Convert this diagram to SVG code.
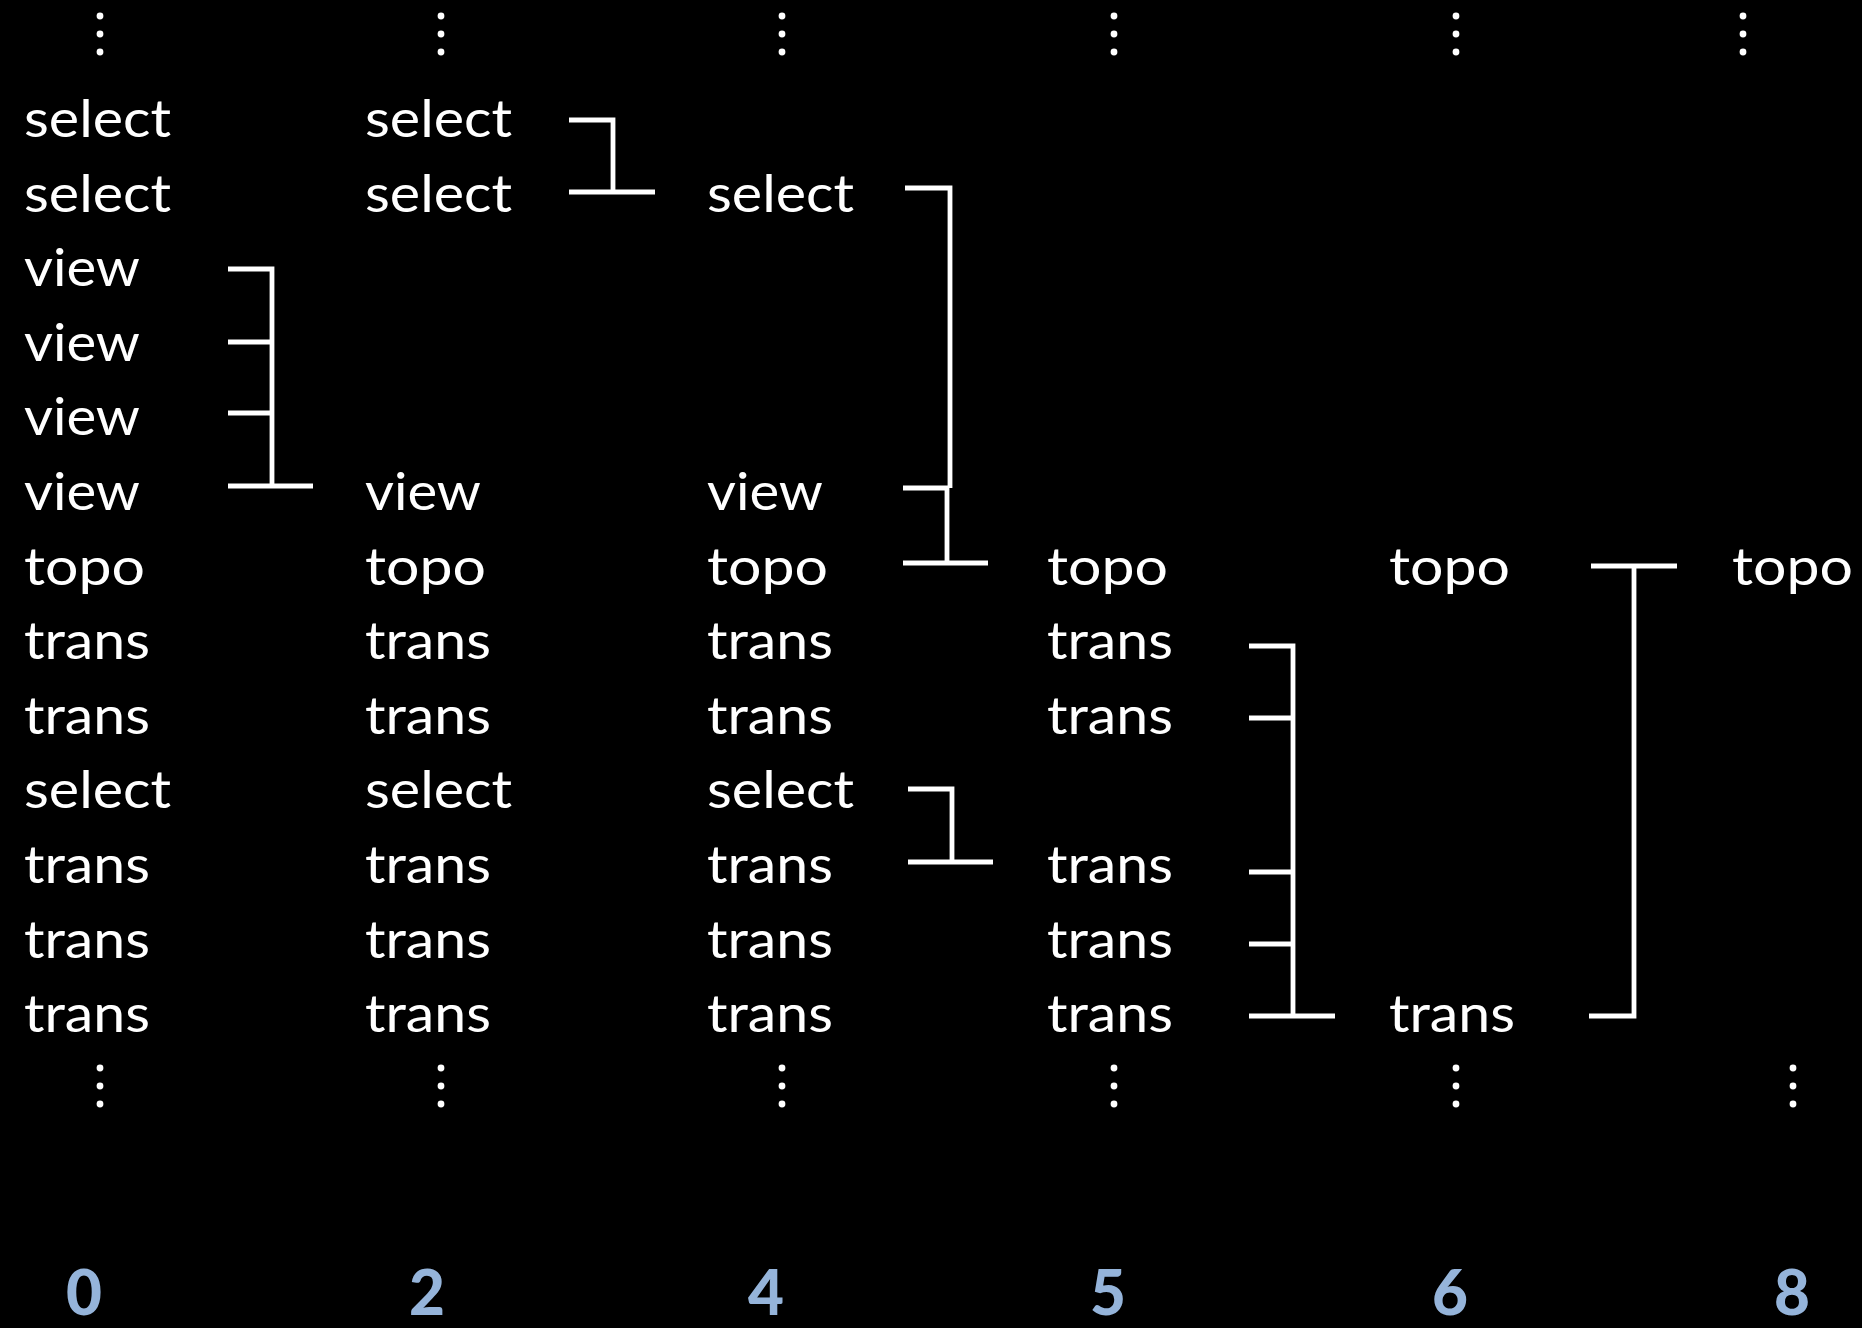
<svg xmlns="http://www.w3.org/2000/svg" width="1862" height="1328" viewBox="0 0 1862 1328">
  <style>
    .lbl { font-family: Lato, "Open Sans", "Liberation Sans", sans-serif; font-size: 53px; fill: #ffffff; }
    .num { font-family: Lato, "Open Sans", "Liberation Sans", sans-serif; font-size: 62px; font-weight: 900; fill: #95b4da; text-anchor: middle; }
    .link { fill: none; stroke: #ffffff; stroke-width: 4.8; stroke-linecap: butt; stroke-linejoin: miter; }
    .dot { fill: #ffffff; }
  </style>
  <defs>
    <g id="vdots">
      <circle class="dot" cx="0" cy="0" r="3.4"/>
      <circle class="dot" cx="0" cy="18" r="3.4"/>
      <circle class="dot" cx="0" cy="36" r="3.4"/>
    </g>
  </defs>

  <rect x="0" y="0" width="1862" height="1328" fill="#000000"/>

  <!-- continuation dots above and below each column -->
  <g id="ellipses">
    <use href="#vdots" x="100" y="16"/>
    <use href="#vdots" x="441" y="16"/>
    <use href="#vdots" x="782" y="16"/>
    <use href="#vdots" x="1114" y="16"/>
    <use href="#vdots" x="1456" y="16"/>
    <use href="#vdots" x="1743" y="16"/>
    <use href="#vdots" x="100" y="1068"/>
    <use href="#vdots" x="441" y="1068"/>
    <use href="#vdots" x="782" y="1068"/>
    <use href="#vdots" x="1114" y="1068"/>
    <use href="#vdots" x="1456" y="1068"/>
    <use href="#vdots" x="1793" y="1068"/>
  </g>

  <!-- column 0 -->
  <g id="col0">
    <g id="c0r0"><text class="lbl" x="24" y="137" textLength="147" lengthAdjust="spacingAndGlyphs">select</text></g>
    <g id="c0r1"><text class="lbl" x="24" y="212" textLength="147" lengthAdjust="spacingAndGlyphs">select</text></g>
    <g id="c0r2"><text class="lbl" x="24" y="286" textLength="116" lengthAdjust="spacingAndGlyphs">view</text></g>
    <g id="c0r3"><text class="lbl" x="24" y="361" textLength="116" lengthAdjust="spacingAndGlyphs">view</text></g>
    <g id="c0r4"><text class="lbl" x="24" y="435" textLength="116" lengthAdjust="spacingAndGlyphs">view</text></g>
    <g id="c0r5"><text class="lbl" x="24" y="510" textLength="116" lengthAdjust="spacingAndGlyphs">view</text></g>
    <g id="c0r6"><text class="lbl" x="24" y="585" textLength="121" lengthAdjust="spacingAndGlyphs">topo</text></g>
    <g id="c0r7"><text class="lbl" x="24" y="659" textLength="126" lengthAdjust="spacingAndGlyphs">trans</text></g>
    <g id="c0r8"><text class="lbl" x="24" y="734" textLength="126" lengthAdjust="spacingAndGlyphs">trans</text></g>
    <g id="c0r9"><text class="lbl" x="24" y="808" textLength="147" lengthAdjust="spacingAndGlyphs">select</text></g>
    <g id="c0r10"><text class="lbl" x="24" y="883" textLength="126" lengthAdjust="spacingAndGlyphs">trans</text></g>
    <g id="c0r11"><text class="lbl" x="24" y="958" textLength="126" lengthAdjust="spacingAndGlyphs">trans</text></g>
    <g id="c0r12"><text class="lbl" x="24" y="1032" textLength="126" lengthAdjust="spacingAndGlyphs">trans</text></g>
  </g>

  <!-- column 2 -->
  <g id="col2">
    <g id="c2r0"><text class="lbl" x="365" y="137" textLength="147" lengthAdjust="spacingAndGlyphs">select</text></g>
    <g id="c2r1"><text class="lbl" x="365" y="212" textLength="147" lengthAdjust="spacingAndGlyphs">select</text></g>
    <g id="c2r5"><text class="lbl" x="365" y="510" textLength="116" lengthAdjust="spacingAndGlyphs">view</text></g>
    <g id="c2r6"><text class="lbl" x="365" y="585" textLength="121" lengthAdjust="spacingAndGlyphs">topo</text></g>
    <g id="c2r7"><text class="lbl" x="365" y="659" textLength="126" lengthAdjust="spacingAndGlyphs">trans</text></g>
    <g id="c2r8"><text class="lbl" x="365" y="734" textLength="126" lengthAdjust="spacingAndGlyphs">trans</text></g>
    <g id="c2r9"><text class="lbl" x="365" y="808" textLength="147" lengthAdjust="spacingAndGlyphs">select</text></g>
    <g id="c2r10"><text class="lbl" x="365" y="883" textLength="126" lengthAdjust="spacingAndGlyphs">trans</text></g>
    <g id="c2r11"><text class="lbl" x="365" y="958" textLength="126" lengthAdjust="spacingAndGlyphs">trans</text></g>
    <g id="c2r12"><text class="lbl" x="365" y="1032" textLength="126" lengthAdjust="spacingAndGlyphs">trans</text></g>
  </g>

  <!-- column 4 -->
  <g id="col4">
    <g id="c4r1"><text class="lbl" x="707" y="212" textLength="147" lengthAdjust="spacingAndGlyphs">select</text></g>
    <g id="c4r5"><text class="lbl" x="707" y="510" textLength="116" lengthAdjust="spacingAndGlyphs">view</text></g>
    <g id="c4r6"><text class="lbl" x="707" y="585" textLength="121" lengthAdjust="spacingAndGlyphs">topo</text></g>
    <g id="c4r7"><text class="lbl" x="707" y="659" textLength="126" lengthAdjust="spacingAndGlyphs">trans</text></g>
    <g id="c4r8"><text class="lbl" x="707" y="734" textLength="126" lengthAdjust="spacingAndGlyphs">trans</text></g>
    <g id="c4r9"><text class="lbl" x="707" y="808" textLength="147" lengthAdjust="spacingAndGlyphs">select</text></g>
    <g id="c4r10"><text class="lbl" x="707" y="883" textLength="126" lengthAdjust="spacingAndGlyphs">trans</text></g>
    <g id="c4r11"><text class="lbl" x="707" y="958" textLength="126" lengthAdjust="spacingAndGlyphs">trans</text></g>
    <g id="c4r12"><text class="lbl" x="707" y="1032" textLength="126" lengthAdjust="spacingAndGlyphs">trans</text></g>
  </g>

  <!-- column 5 -->
  <g id="col5">
    <g id="c5r6"><text class="lbl" x="1047" y="585" textLength="121" lengthAdjust="spacingAndGlyphs">topo</text></g>
    <g id="c5r7"><text class="lbl" x="1047" y="659" textLength="126" lengthAdjust="spacingAndGlyphs">trans</text></g>
    <g id="c5r8"><text class="lbl" x="1047" y="734" textLength="126" lengthAdjust="spacingAndGlyphs">trans</text></g>
    <g id="c5r10"><text class="lbl" x="1047" y="883" textLength="126" lengthAdjust="spacingAndGlyphs">trans</text></g>
    <g id="c5r11"><text class="lbl" x="1047" y="958" textLength="126" lengthAdjust="spacingAndGlyphs">trans</text></g>
    <g id="c5r12"><text class="lbl" x="1047" y="1032" textLength="126" lengthAdjust="spacingAndGlyphs">trans</text></g>
  </g>

  <!-- column 6 -->
  <g id="col6">
    <g id="c6r6"><text class="lbl" x="1389" y="585" textLength="121" lengthAdjust="spacingAndGlyphs">topo</text></g>
    <g id="c6r12"><text class="lbl" x="1389" y="1032" textLength="126" lengthAdjust="spacingAndGlyphs">trans</text></g>
  </g>

  <!-- column 8 -->
  <g id="col8">
    <g id="c8r6"><text class="lbl" x="1732" y="585" textLength="121" lengthAdjust="spacingAndGlyphs">topo</text></g>
  </g>

  <!-- merge brackets between columns -->
  <g id="connectors">
    <path class="link" d="M228 269 H272 V486 M228 342 H272 M228 413 H272 M228 486 H313"/>
    <path class="link" d="M569 120 H613 V192 M569 192 H655"/>
    <path class="link" d="M905 188 H950 V488 M903 488 H947 V563 M903 563 H988"/>
    <path class="link" d="M908 789 H952 V862 M908 862 H993"/>
    <path class="link" d="M1249 646 H1293 V1016 M1249 718 H1293 M1249 872 H1293 M1249 944 H1293 M1249 1016 H1335"/>
    <path class="link" d="M1591 566 H1677 M1634 566 V1016 H1589"/>
  </g>

  <!-- step numbers -->
  <g id="steps">
    <text class="num" x="84" y="1315">0</text>
    <text class="num" x="427" y="1315">2</text>
    <text class="num" x="766" y="1315">4</text>
    <text class="num" x="1108" y="1315">5</text>
    <text class="num" x="1450" y="1315">6</text>
    <text class="num" x="1792" y="1315">8</text>
  </g>
</svg>
